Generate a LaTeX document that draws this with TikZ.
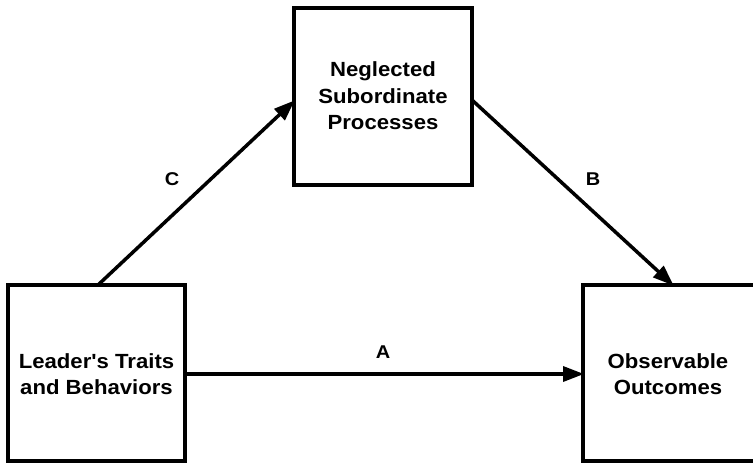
\documentclass[tikz,border=0pt]{standalone}
\usepackage{fontspec}
\setmainfont{Liberation Sans}
\newfontfamily\boxfont[FakeStretch=1.08]{Liberation Sans Bold}
\usetikzlibrary{arrows.meta}
\begin{document}
\begin{tikzpicture}[x=1pt,y=-1pt,
  box/.style={draw=black,line width=3.5pt,fill=white},
  boxtext/.style={align=center,font=\boxfont\fontsize{20.5}{26.5}\selectfont,inner sep=0pt},
  link/.style={line width=3.5pt,-{Triangle[length=21pt,width=15pt]},shorten >=-1pt},
  tag/.style={font=\boxfont\fontsize{18.5}{20}\selectfont,inner sep=0pt}]
\useasboundingbox (0,0) rectangle (753,463);
\clip (0,0) rectangle (753,463);
% three boxes
\draw[box] (8,285) rectangle (185,461);
\draw[box] (294,8) rectangle (472,185);
\draw[box] (583,285) rectangle (770,461);
\node[boxtext] (lead) at (96.5,374) {Leader's Traits\\and Behaviors};
\node[boxtext] (negl) at (383,96) {Neglected\\Subordinate\\Processes};
\node[boxtext] (outc) at (668,374) {Observable\\Outcomes};
% attachment points on the box borders
\coordinate (cStart) at (98,285);
\coordinate (cEnd) at (294,101);
\coordinate (bStart) at (472,100);
\coordinate (bEnd) at (673,285);
\coordinate (aStart) at (185,374);
\coordinate (aEnd) at (583,374);
% connectors
\draw[link] (cStart) -- (cEnd);
\draw[link] (bStart) -- (bEnd);
\draw[link] (aStart) -- (aEnd);
% path labels
\node[tag] (lc) at (172,179) {C};
\node[tag] (lb) at (593,179) {B};
\node[tag] (la) at (383,352) {A};
\end{tikzpicture}
\end{document}
